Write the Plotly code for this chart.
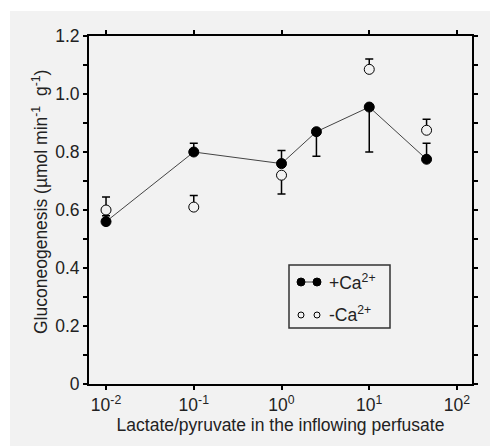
import plotly.graph_objects as go

# ---- data ----
x_plus = [0.01, 0.1, 1.0, 2.5, 10.0, 45.0]
y_plus = [0.56, 0.80, 0.76, 0.87, 0.955, 0.775]
err_plus_up = [0.02, 0.03, 0.045, 0.0, 0.0, 0.055]
err_plus_dn = [0.0, 0.0, 0.0, 0.085, 0.155, 0.0]

x_minus = [0.01, 0.1, 1.0, 10.0, 45.0]
y_minus = [0.60, 0.61, 0.72, 1.085, 0.875]
err_minus_up = [0.045, 0.04, 0.0, 0.036, 0.038]
err_minus_dn = [0.0, 0.0, 0.065, 0.0, 0.0]

x_ticks = [0.01, 0.1, 1, 10, 100]
x_ticklabels = ["10<sup>-2</sup>", "10<sup>-1</sup>", "10<sup>0</sup>",
                "10<sup>1</sup>", "10<sup>2</sup>"]
y_ticks = [0, 0.2, 0.4, 0.6, 0.8, 1.0, 1.2]
y_ticklabels = ["0", "0.2", "0.4", "0.6", "0.8", "1.0", "1.2"]
legend_labels = ["+Ca<sup>2+</sup>", "-Ca<sup>2+</sup>"]
x_title = "Lactate/pyruvate in the inflowing perfusate"
y_title = "Gluconeogenesis (µmol min<sup>-1</sup>  g<sup>-1</sup>)"

# ---- layout geometry ----
W, H = 490, 446
L, R, T, B = 89, 18, 36, 62
PW, PH = W - L - R, H - T - B
BG = "#f2f2f2"
FONT = "Liberation Sans, Arial, sans-serif"
FS = 17.5
TXT = "#222222"


def px(xp):
    return (xp - L) / PW


def py(yp):
    return (H - B - yp) / PH


fig = go.Figure()

fig.add_trace(go.Scatter(
    x=x_plus, y=y_plus, mode="lines+markers",
    line=dict(color="#444444", width=1),
    marker=dict(size=10, color="black", line=dict(color="black", width=1)),
    error_y=dict(type="data", symmetric=False, array=err_plus_up,
                 arrayminus=err_plus_dn, color="black", thickness=1.5, width=4),
    showlegend=False,
))
fig.add_trace(go.Scatter(
    x=x_minus, y=y_minus, mode="markers",
    marker=dict(size=10, color=BG, line=dict(color="black", width=1)),
    error_y=dict(type="data", symmetric=False, array=err_minus_up,
                 arrayminus=err_minus_dn, color="black", thickness=1.5, width=4),
    showlegend=False,
))

shapes = [
    dict(type="rect", xref="paper", yref="paper", layer="below",
         x0=px(10), x1=px(490), y0=py(446), y1=py(11),
         fillcolor=BG, line=dict(width=0)),
    dict(type="rect", xref="paper", yref="paper",
         x0=px(289), x1=px(390), y0=py(328), y1=py(265),
         fillcolor=BG, line=dict(color="#333333", width=1.5)),
    dict(type="line", xref="paper", yref="paper",
         x0=px(301), x1=px(317), y0=py(282), y1=py(282),
         line=dict(color="#444444", width=1)),
]
for cx in (301, 317):
    r = 4
    shapes.append(dict(type="circle", xref="paper", yref="paper",
                       x0=px(cx - r), x1=px(cx + r), y0=py(282 + r), y1=py(282 - r),
                       fillcolor="black", line=dict(color="black", width=1)))
    r = 3
    shapes.append(dict(type="circle", xref="paper", yref="paper",
                       x0=px(cx - r), x1=px(cx + r), y0=py(315 + r), y1=py(315 - r),
                       fillcolor=BG, line=dict(color="black", width=1)))

annotations = [
    dict(xref="paper", yref="paper", x=px(327), y=py(282), xanchor="left",
         yanchor="middle", text=legend_labels[0], showarrow=False,
         font=dict(family=FONT, size=FS, color=TXT)),
    dict(xref="paper", yref="paper", x=px(327), y=py(314), xanchor="left",
         yanchor="middle", text=legend_labels[1], showarrow=False,
         font=dict(family=FONT, size=FS, color=TXT)),
    dict(xref="paper", yref="paper", x=px(40), y=py(202), xanchor="center",
         yanchor="middle", text=y_title, textangle=-90, showarrow=False,
         font=dict(family=FONT, size=FS, color=TXT)),
]

axis_common = dict(showline=True, linecolor="black", linewidth=2, mirror="ticks",
                   ticks="outside", ticklen=4, tickwidth=1.5, tickcolor="black",
                   showgrid=False, zeroline=False,
                   tickfont=dict(family=FONT, size=FS, color=TXT))

fig.update_layout(
    width=W, height=H, autosize=False,
    margin=dict(l=L, r=R, t=T, b=B, pad=0),
    paper_bgcolor="white", plot_bgcolor=BG,
    font=dict(family=FONT, size=FS, color=TXT),
    shapes=shapes, annotations=annotations,
    xaxis=dict(type="log", range=[-2.194, 2.171], tickvals=x_ticks,
               ticktext=x_ticklabels,
               title=dict(text=x_title,
                          font=dict(family=FONT, size=FS, color=TXT), standoff=4),
               **axis_common),
    yaxis=dict(range=[0, 1.2], tickvals=y_ticks, ticktext=y_ticklabels,
               minor=dict(dtick=0.1, ticks="outside", ticklen=4, tickwidth=1.5,
                          tickcolor="black"),
               **axis_common),
)

fig.write_html("out.html")
